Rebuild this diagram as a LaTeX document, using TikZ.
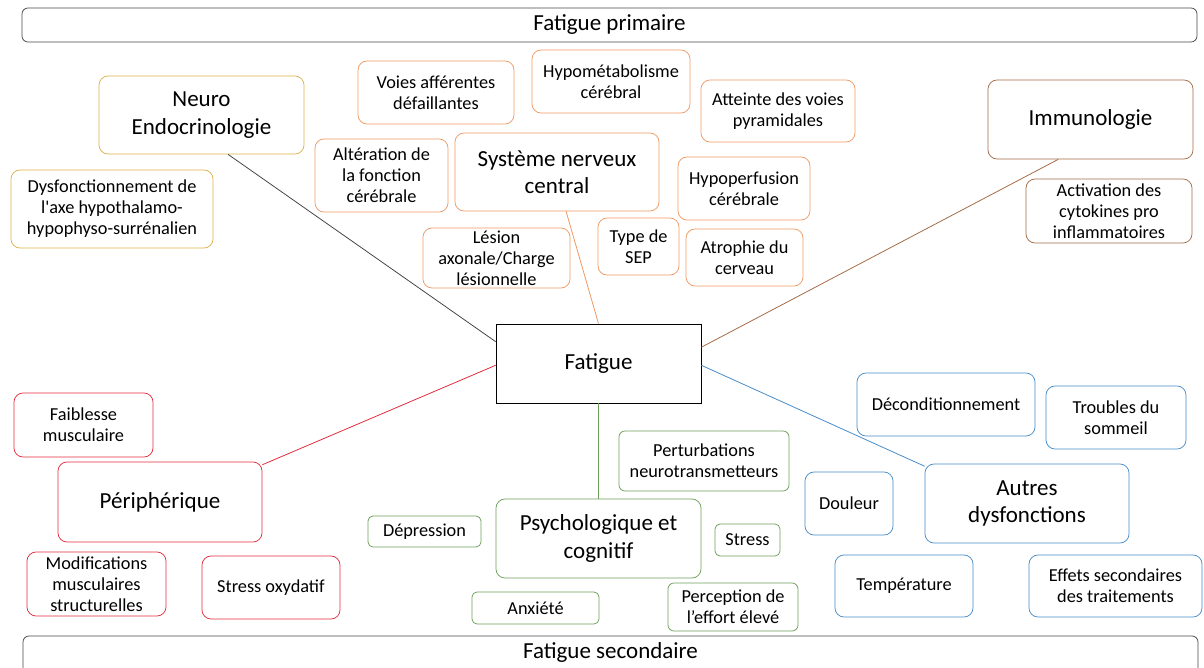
\documentclass[tikz,border=0pt]{standalone}
\usepackage{fontspec}
\setmainfont{Carlito}[Ligatures=TeXOff]
\usetikzlibrary{positioning}
\definecolor{neurocol}{RGB}{222,176,72}
\definecolor{snccol}{RGB}{238,152,98}
\definecolor{immcol}{RGB}{165,108,72}
\definecolor{percol}{RGB}{226,44,62}
\definecolor{psycol}{RGB}{108,158,88}
\definecolor{autcol}{RGB}{72,140,200}
\definecolor{barcol}{RGB}{70,70,70}

\begin{document}
\begin{tikzpicture}[x=1pt,y=-1pt,
		box/.style={draw, rounded corners=9pt, align=center, inner sep=1pt, line width=0.75pt},
		small/.style={font=\fontsize{18.3}{21}\selectfont},
		big/.style={font=\fontsize{23}{27.5}\selectfont},
		dims/.style 2 args={minimum width=#1pt, minimum height=#2pt}]
	\useasboundingbox (0,0) rectangle (1204,668);

	\node[box, big, draw=barcol, rounded corners=6pt, dims={1175}{34}] (primaire) at (609.5,25) {Fatigue primaire};
	\node[box, big, draw=barcol, rounded corners=6pt, dims={1175}{44}, text depth=14pt] (secondaire) at (610.5,658) {Fatigue secondaire};

	\node[draw=black, big, line width=0.75pt, dims={205}{79}] (fatigue) at (598.5,363.5) {Fatigue};

	\node[box, big, draw=neurocol, dims={205}{78}] (neuro) at (201.5,115) {Neuro\\Endocrinologie};
	\node[box, small, draw=neurocol, dims={202}{78}] (axe) at (112,209) {Dysfonctionnement de\\l'axe hypothalamo-\\hypophyso-surrénalien};

	\node[box, big, draw=snccol, dims={204}{78}] (snc) at (557,172) {Système nerveux\\central};
	\node[box, small, draw=snccol, dims={156}{63}] (voies) at (436,92.5) {Voies afférentes\\défaillantes};
	\node[box, small, draw=snccol, dims={158}{63}] (hypomet) at (611,81.5) {Hypométabolisme\\cérébral};
	\node[box, small, draw=snccol, dims={154}{62}] (atteinte) at (778,111) {Atteinte des voies\\pyramidales};
	\node[box, small, draw=snccol, dims={133}{73}] (alteration) at (381.5,175.5) {Altération de\\la fonction\\cérébrale};
	\node[box, small, draw=snccol, dims={132}{63}] (hypoperf) at (744,188.5) {Hypoperfusion\\cérébrale};
	\node[box, small, draw=snccol, dims={147}{60}] (lesion) at (496.5,258) {Lésion\\axonale/Charge\\lésionnelle};
	\node[box, small, draw=snccol, dims={81}{57}] (typesep) at (638.5,246.5) {Type de\\SEP};
	\node[box, small, draw=snccol, dims={117}{57}] (atrophie) at (744.5,257.5) {Atrophie du\\cerveau};

	\node[box, big, draw=immcol, dims={205}{79}] (immuno) at (1090.5,119.5) {Immunologie};
	\node[box, small, draw=immcol, dims={166}{64}] (cytokines) at (1109,211) {Activation des\\cytokines pro\\inflammatoires};

	\node[box, big, draw=percol, dims={204}{80}] (periph) at (160,502) {Périphérique};
	\node[box, small, draw=percol, dims={139}{64}] (faiblesse) at (83.5,425) {Faiblesse\\musculaire};
	\node[box, small, draw=percol, dims={139}{64}] (modif) at (96.5,584) {Modifications\\musculaires\\structurelles};
	\node[box, small, draw=percol, dims={138}{63}] (oxyd) at (271,587.5) {Stress oxydatif};

	\node[box, big, draw=psycol, dims={205}{79}] (psycho) at (598.5,538.5) {Psychologique et\\cognitif};
	\node[box, small, draw=psycol, rounded corners=6pt, dims={170}{60}] (perturb) at (704,461) {Perturbations\\neurotransmetteurs};
	\node[box, small, draw=psycol, rounded corners=5pt, dims={113}{31}] (depression) at (424.5,531.5) {Dépression};
	\node[box, small, draw=psycol, rounded corners=5pt, dims={65}{32}] (stress) at (747.5,540) {Stress};
	\node[box, small, draw=psycol, rounded corners=5pt, dims={127}{32}] (anxiete) at (535.5,608) {Anxiété};
	\node[box, small, draw=psycol, rounded corners=6pt, dims={130}{48}] (effort) at (733,607) {Perception de\\l’effort élevé};

	\node[box, big, draw=autcol, dims={204}{79}] (autres) at (1027,503.5) {Autres\\dysfonctions};
	\node[box, small, draw=autcol, dims={178}{63}] (decond) at (946,404.5) {Déconditionnement};
	\node[box, small, draw=autcol, dims={140}{63}] (sommeil) at (1116,417.5) {Troubles du\\sommeil};
	\node[box, small, draw=autcol, dims={88}{63}] (douleur) at (849,503.5) {Douleur};
	\node[box, small, draw=autcol, dims={138}{62}] (temperature) at (904,586) {Température};
	\node[box, small, draw=autcol, dims={173}{62}] (effets) at (1115.5,586) {Effets secondaires\\des traitements};

	\draw[barcol, line width=0.8pt] (neuro.-56) -- (fatigue.168);
	\draw[snccol, line width=0.8pt] (snc.-77) -- (fatigue.north);
	\draw[immcol, line width=0.8pt] (immuno.231) -- (fatigue.9);
	\draw[percol, line width=0.8pt] (periph.20) -- (fatigue.181);
	\draw[autcol, line width=0.8pt] (fatigue.-1) -- (autres.160);
	\draw[psycol, line width=0.8pt] (fatigue.south) -- (psycho.north);
\end{tikzpicture}
\end{document}
